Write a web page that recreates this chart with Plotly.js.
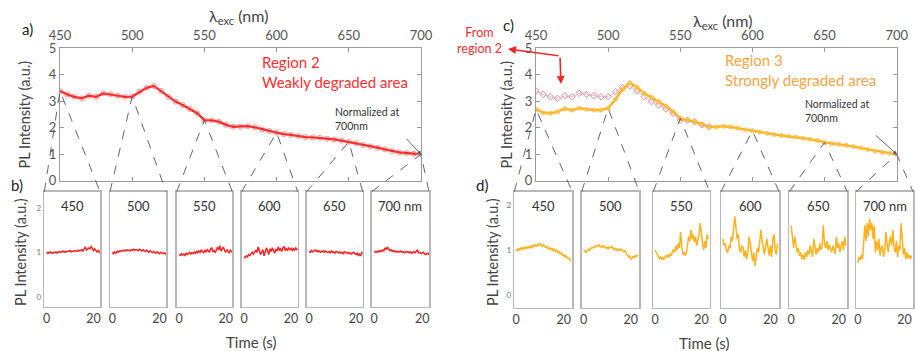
<!DOCTYPE html>
<html><head><meta charset="utf-8">
<script src="https://cdn.plot.ly/plotly-3.0.1.min.js"></script>
<style>html,body{margin:0;padding:0;background:#fff}#chart{width:915px;height:351px}</style>
</head><body><div id="chart"></div>
<script>
// ---------------- DATA ----------------
const wavelength = [450,455,460,465,470,475,480,485,490,495,500,505,510,515,520,525,530,535,540,545,550,555,560,565,570,575,580,585,590,595,600,605,610,615,620,625,630,635,640,645,650,655,660,665,670,675,680,685,690,695,700];
const region2 = [3.39,3.26,3.17,3.11,3.21,3.17,3.30,3.26,3.21,3.17,3.18,3.36,3.51,3.58,3.39,3.17,2.99,2.86,2.71,2.55,2.29,2.28,2.23,2.11,2.04,2.04,2.06,2.02,1.94,1.88,1.82,1.76,1.73,1.69,1.65,1.64,1.62,1.59,1.56,1.52,1.47,1.42,1.35,1.30,1.25,1.19,1.12,1.07,1.05,1.02,1.0];
const region3 = [2.70,2.57,2.55,2.61,2.72,2.67,2.74,2.70,2.67,2.67,2.74,3.07,3.45,3.70,3.53,3.30,3.15,2.99,2.82,2.61,2.36,2.29,2.23,2.13,2.04,2.03,2.06,2.03,1.98,1.93,1.89,1.84,1.79,1.75,1.71,1.68,1.65,1.61,1.57,1.52,1.45,1.41,1.38,1.34,1.29,1.24,1.18,1.12,1.07,1.04,1.0];
const region2ShownUpTo = 570;
const xTickVals = [450,500,550,600,650,700];
const yTickVals = [0,1,2,3,4,5];

const panelWavelengths = [450,500,550,600,650,700];
const panelLabels = ['450','500','550','600','650','700 nm'];
const timeS = [0,0.5,1,1.5,2,2.5,3,3.5,4,4.5,5,5.5,6,6.5,7,7.5,8,8.5,9,9.5,10,10.5,11,11.5,12,12.5,13,13.5,14,14.5,15,15.5,16,16.5,17,17.5,18,18.5,19,19.5,20,20.5,21,21.5,22,22.5,23];
const timeTicks = [0,20];
const smallYTicks = [0,1,2];

const r2_450 = [0.97,1.0,0.98,1.01,0.99,0.98,1.0,0.99,1.01,0.98,1.0,1.02,1.0,1.01,1.03,1.0,1.02,1.01,1.03,1.02,1.04,1.01,1.03,1.02,1.04,1.03,1.02,1.05,1.03,1.04,1.06,1.03,1.09,1.12,1.05,1.07,1.1,1.08,1.13,1.09,1.04,1.08,1.05,1.01,1.04,1.0,1.03];
const r2_500 = [1.0,0.97,1.01,0.98,1.02,1.0,1.03,1.02,1.04,1.03,1.05,1.03,1.06,1.04,1.05,1.03,1.06,1.05,1.07,1.04,1.06,1.05,1.04,1.07,1.05,1.03,1.06,1.04,1.02,1.05,1.03,1.0,1.04,1.01,0.99,1.02,1.0,0.98,1.01,0.99,0.97,1.0,0.98,0.97,0.99,0.96,0.98];
const r2_550 = [0.95,0.93,0.97,0.94,0.96,0.93,0.98,0.95,0.97,1.0,0.96,0.99,0.97,1.01,0.98,1.02,0.99,1.03,1.0,1.05,1.02,0.99,1.04,1.01,1.06,1.03,1.0,1.08,1.1,1.02,1.04,0.99,1.06,1.12,1.05,1.15,1.03,1.08,1.12,1.04,1.0,1.06,1.02,0.98,1.05,1.01,0.99];
const r2_600 = [0.9,0.88,0.92,0.9,0.95,0.93,0.97,1.0,0.96,1.02,1.05,1.0,1.12,1.04,0.95,1.0,1.06,0.92,1.0,1.1,1.03,0.95,1.08,1.02,1.1,1.05,0.98,1.07,1.03,1.12,1.05,1.08,1.02,1.1,1.13,1.04,1.08,1.05,1.1,1.06,1.09,1.04,1.08,1.05,1.1,1.06,1.08];
const r2_650 = [1.02,1.0,1.04,1.01,1.03,1.05,1.02,1.04,1.01,1.03,1.0,1.02,1.04,1.0,1.03,1.01,1.0,1.02,0.99,1.03,1.0,1.01,0.98,1.02,1.0,0.99,1.01,0.98,1.0,0.97,1.01,0.99,0.98,1.0,0.97,0.99,0.96,0.98,1.0,0.97,0.95,0.98,0.92,0.96,0.93,1.0,0.98];
const r2_700 = [1.0,1.02,1.0,1.03,1.01,1.04,1.02,1.05,1.03,1.1,1.06,1.12,1.08,1.04,1.06,1.02,1.04,1.01,1.03,1.0,1.02,1.01,1.03,1.0,1.02,0.99,1.01,1.0,1.02,0.99,1.01,0.98,1.0,1.02,0.99,1.01,1.05,0.99,1.0,0.97,0.99,1.0,0.96,0.95,0.98,0.96,1.0];

const r3_450 = [1.02,0.98,1.04,1.0,1.05,1.02,1.06,1.03,1.07,1.04,1.08,1.05,1.09,1.06,1.1,1.08,1.12,1.09,1.13,1.1,1.15,1.11,1.08,1.12,1.1,1.06,1.08,1.03,1.05,1.01,1.04,0.99,1.02,0.97,1.0,0.95,0.97,0.92,0.94,0.88,0.9,0.85,0.87,0.82,0.83,0.78,0.76];
const r3_500 = [1.0,0.97,0.95,0.99,1.02,1.0,1.04,1.06,1.05,1.08,1.07,1.1,1.09,1.12,1.08,1.06,1.1,1.07,1.09,1.04,1.06,1.03,1.07,1.05,1.08,1.03,1.0,1.04,1.01,0.99,1.03,1.0,1.02,0.98,0.97,0.99,0.93,0.9,0.85,0.87,0.8,0.82,0.86,0.84,0.88,0.86,0.9];
const r3_550 = [1.0,0.95,0.9,0.85,0.8,0.86,0.78,0.83,0.8,0.88,0.85,0.9,0.84,0.92,0.88,0.97,1.02,0.95,1.1,1.0,1.15,1.05,1.4,1.1,0.9,0.95,0.88,0.93,1.15,1.3,1.2,1.45,1.25,1.35,1.18,1.3,1.1,1.25,1.35,1.6,1.3,1.15,1.0,1.2,1.05,1.35,1.25];
const r3_600 = [1.25,1.1,1.15,0.98,0.95,1.1,1.05,1.3,1.2,1.55,1.75,1.5,1.25,1.35,1.0,0.95,1.1,1.05,0.85,1.0,0.8,0.95,1.3,1.15,0.9,0.75,0.95,0.65,0.85,1.05,0.95,1.2,1.45,1.2,1.0,0.9,1.1,1.25,1.05,0.88,1.1,0.85,1.25,1.35,1.0,0.9,1.15];
const r3_650 = [1.55,1.2,1.05,1.3,1.1,0.95,1.05,0.87,0.95,0.8,0.9,0.78,0.95,0.85,1.0,0.9,1.1,0.95,0.85,1.25,1.0,0.9,1.05,0.95,1.15,1.0,1.1,1.55,1.15,1.05,1.2,1.0,1.12,1.05,0.95,1.1,1.0,0.92,1.3,1.05,1.15,0.95,1.1,1.2,1.0,1.3,1.1];
const r3_700 = [0.72,0.85,0.78,0.9,0.8,1.35,1.55,1.2,1.6,1.3,1.7,1.45,1.6,1.25,1.55,0.95,1.2,1.0,1.25,0.88,1.05,1.1,0.85,1.0,1.4,1.15,0.95,1.2,1.3,1.1,1.45,1.05,0.95,1.2,0.85,1.1,1.0,1.6,1.25,0.9,1.05,0.8,0.95,0.82,0.9,0.8,0.88];

const region2Traces = [r2_450,r2_500,r2_550,r2_600,r2_650,r2_700];
const region3Traces = [r3_450,r3_500,r3_550,r3_600,r3_650,r3_700];

// ---------------- GEOMETRY / STYLE ----------------
const W = 915, H = 351;
const px = x => x / W, py = y => 1 - y / H;
const FONT = 'Lato, "Noto Sans", sans-serif';
const RED = '#ff2424', ORANGE = '#ffb21e', PINK = '#dc8aa0';
const topL = {l:60, r:421, t:48.3, b:180.8};
const topR = {l:536, r:896.7, t:48.3, b:180.8};
const leftBoxes = {l:[44.3,110,176.7,241.7,306.7,371.7], r:[100,166,232.3,297.7,362.7,429], t:191.7, b:306.7, yr:[-0.22,2.36], xr:[-1,22.8]};
const rightBoxes = {l:[514.3,581.7,653.3,721,789.3,856], r:[572.3,639.3,709.7,779,847.3,913], t:191.7, b:307.7, yr:[-0.28,2.3], xr:[-0.8,23.6]};
const xMin = wavelength[0], xMax = wavelength[wavelength.length-1];
const yMin = yTickVals[0], yMax = yTickVals[yTickVals.length-1];

const data = [];
const layout = {
  width: W, height: H, margin:{l:0,r:0,t:0,b:0},
  paper_bgcolor:'#fff', plot_bgcolor:'rgba(0,0,0,0)',
  showlegend:false, font:{family:FONT, color:'#444'},
  annotations:[], shapes:[]
};

function topAxes(n, g){
  layout['xaxis'+(n===1?'':n)] = {
    domain:[px(g.l), px(g.r)], range:[xMin, xMax], anchor:'y'+(n===1?'':n), side:'top',
    tickvals:xTickVals, ticks:'inside', ticklen:4, tickcolor:'#999', ticklabelstandoff:2,
    showline:true, mirror:'ticks', linecolor:'#9a9a9a', linewidth:1.2,
    showgrid:false, zeroline:false, tickfont:{size:13, color:'#555'}
  };
  layout['yaxis'+(n===1?'':n)] = {
    domain:[py(g.b), py(g.t)], range:[yMin, yMax], anchor:'x'+(n===1?'':n),
    tickvals:yTickVals, ticks:'inside', ticklen:4, tickcolor:'#999',
    showline:true, mirror:'ticks', linecolor:'#9a9a9a', linewidth:1.2,
    showgrid:false, zeroline:false, tickfont:{size:13, color:'#555'}
  };
}
topAxes(1, topL);
topAxes(2, topR);

// top curves
data.push({x:wavelength, y:region2, xaxis:'x', yaxis:'y', mode:'lines+markers',
  line:{color:RED, width:2.3}, marker:{symbol:'circle-open', size:5, color:'rgba(255,100,100,0.7)', line:{width:1}}});
const pinkIdx = wavelength.filter(w => w <= region2ShownUpTo).length;
data.push({x:wavelength.slice(0,pinkIdx), y:region2.slice(0,pinkIdx), xaxis:'x2', yaxis:'y2', mode:'lines+markers',
  line:{color:'rgba(220,130,150,0.55)', width:1}, marker:{symbol:'diamond-open', size:5, color:PINK, line:{width:1}}});
data.push({x:wavelength, y:region3, xaxis:'x2', yaxis:'y2', mode:'lines+markers',
  line:{color:ORANGE, width:2.3}, marker:{symbol:'circle', size:5, color:'rgba(255,190,70,0.8)'}});

// small panels
function smallPanels(startN, boxes, traces, color){
  for(let k=0;k<6;k++){
    const n = startN + k;
    layout['xaxis'+n] = {domain:[px(boxes.l[k]), px(boxes.r[k])], range:boxes.xr, anchor:'y'+n,
      tickvals:timeTicks, ticks:'', showline:true, mirror:true, linecolor:'#b8b8b8', linewidth:1.5,
      showgrid:false, zeroline:false, tickfont:{size:12.5, color:'#444'}};
    layout['yaxis'+n] = {domain:[py(boxes.b), py(boxes.t)], range:boxes.yr, anchor:'x'+n,
      tickvals:smallYTicks, ticks:'', showline:true, mirror:true, linecolor:'#b8b8b8', linewidth:1.5,
      showgrid:false, zeroline:false, showticklabels:k===0, tickfont:{size:8, color:'#777'}};
    data.push({x:timeS, y:traces[k], xaxis:'x'+n, yaxis:'y'+n, mode:'lines',
      line:{color:color, width:1.5}});
    layout.annotations.push({xref:'paper', yref:'paper', x:px((boxes.l[k]+boxes.r[k])/2), y:py(boxes.t+14),
      text:panelLabels[k], showarrow:false, font:{size:13, color:'#333'}, xanchor:'center', yanchor:'middle'});
  }
}
smallPanels(3, leftBoxes, region2Traces, RED);
smallPanels(9, rightBoxes, region3Traces, ORANGE);

// overlay axes for the zoom connectors (aligned with top panels' data units)
function overlay(n, g, boxes, values){
  const sx = (xMax - xMin)/(g.r - g.l), sy = (yMax - yMin)/(g.b - g.t);
  const toX = p => xMin + (p - g.l)*sx, toY = p => yMin + (g.b - p)*sy;
  layout['xaxis'+n] = {domain:[0,1], range:[toX(0), toX(W)], anchor:'y'+n, visible:false, fixedrange:true};
  layout['yaxis'+n] = {domain:[0,1], range:[toY(H), toY(0)], anchor:'x'+n, visible:false, fixedrange:true};
  panelWavelengths.forEach((w,k) => {
    const v = values[wavelength.indexOf(w)];
    data.push({x:[toX(boxes.l[k]), w, toX(boxes.r[k])], y:[toY(boxes.t), v, toY(boxes.t)],
      xaxis:'x'+n, yaxis:'y'+n, mode:'lines', line:{color:'#555', width:0.9, dash:'dash'}, cliponaxis:false});
  });
}
overlay(15, topL, leftBoxes, region2);
overlay(16, topR, rightBoxes, region3);

// ---------------- TEXT ----------------
const A = layout.annotations;
function txt(x,y,text,opt){ A.push(Object.assign({xref:'paper',yref:'paper',x:px(x),y:py(y),text:text,showarrow:false,xanchor:'center',yanchor:'middle'},opt||{})); }
txt(27,29,'a)',{font:{size:15,color:'#222'}});
txt(17,185,'b)',{font:{size:15,color:'#222'}});
txt(508,25,'c)',{font:{size:15,color:'#222'}});
txt(482,185,'d)',{font:{size:15,color:'#222'}});
txt(238,17,'λ<sub>exc</sub> (nm)',{font:{size:16,color:'#444'}});
txt(722,21,'λ<sub>exc</sub> (nm)',{font:{size:16,color:'#444'}});
txt(24,114.5,'PL Intensity (a.u.)',{textangle:-90,font:{size:14.5,color:'#444'}});
txt(506,114.5,'PL Intensity (a.u.)',{textangle:-90,font:{size:14.5,color:'#444'}});
txt(20,252,'PL Intensity (a.u.)',{textangle:-90,font:{size:14.5,color:'#444'}});
txt(492,252,'PL Intensity (a.u.)',{textangle:-90,font:{size:14.5,color:'#444'}});
txt(251,342,'Time (s)',{font:{size:15,color:'#444'}});
txt(704,343,'Time (s)',{font:{size:15,color:'#444'}});
txt(260,72,'Region 2<br>Weakly degraded area',{xanchor:'left',align:'left',font:{size:15,color:'#ff3030'}});
txt(723,70,'Region 3<br>Strongly degraded area',{xanchor:'left',align:'left',font:{size:15,color:'#f7a445'}});
txt(333,119.5,'Normalized at<br>700nm',{xanchor:'left',align:'left',font:{size:10.5,color:'#333'}});
txt(803,110.5,'Normalized at<br>700nm',{xanchor:'left',align:'left',font:{size:10.5,color:'#333'}});
txt(479,41,'From<br>region 2',{font:{size:12.5,color:'#f03030'}});
// arrows
A.push({xref:'x', yref:'y', x:wavelength[wavelength.length-1], y:region2[region2.length-1], ax:-16, ay:-17, text:'', showarrow:true, arrowhead:2, arrowsize:0.8, arrowwidth:0.9, arrowcolor:'#555'});
A.push({xref:'x2', yref:'y2', x:wavelength[wavelength.length-1], y:region3[region3.length-1], ax:-22, ay:-20, text:'', showarrow:true, arrowhead:2, arrowsize:0.8, arrowwidth:0.9, arrowcolor:'#555'});
A.push({xref:'paper', yref:'paper', x:px(508), y:py(49), ax:52, ay:7, text:'', showarrow:true, arrowhead:2, arrowsize:1, arrowwidth:1.6, arrowcolor:'#f02828'});
A.push({xref:'paper', yref:'paper', x:px(561), y:py(84), ax:-1, ay:-28, text:'', showarrow:true, arrowhead:2, arrowsize:1, arrowwidth:1.6, arrowcolor:'#f02828'});

Plotly.newPlot('chart', data, layout, {staticPlot:true, displayModeBar:false});
</script></body></html>
